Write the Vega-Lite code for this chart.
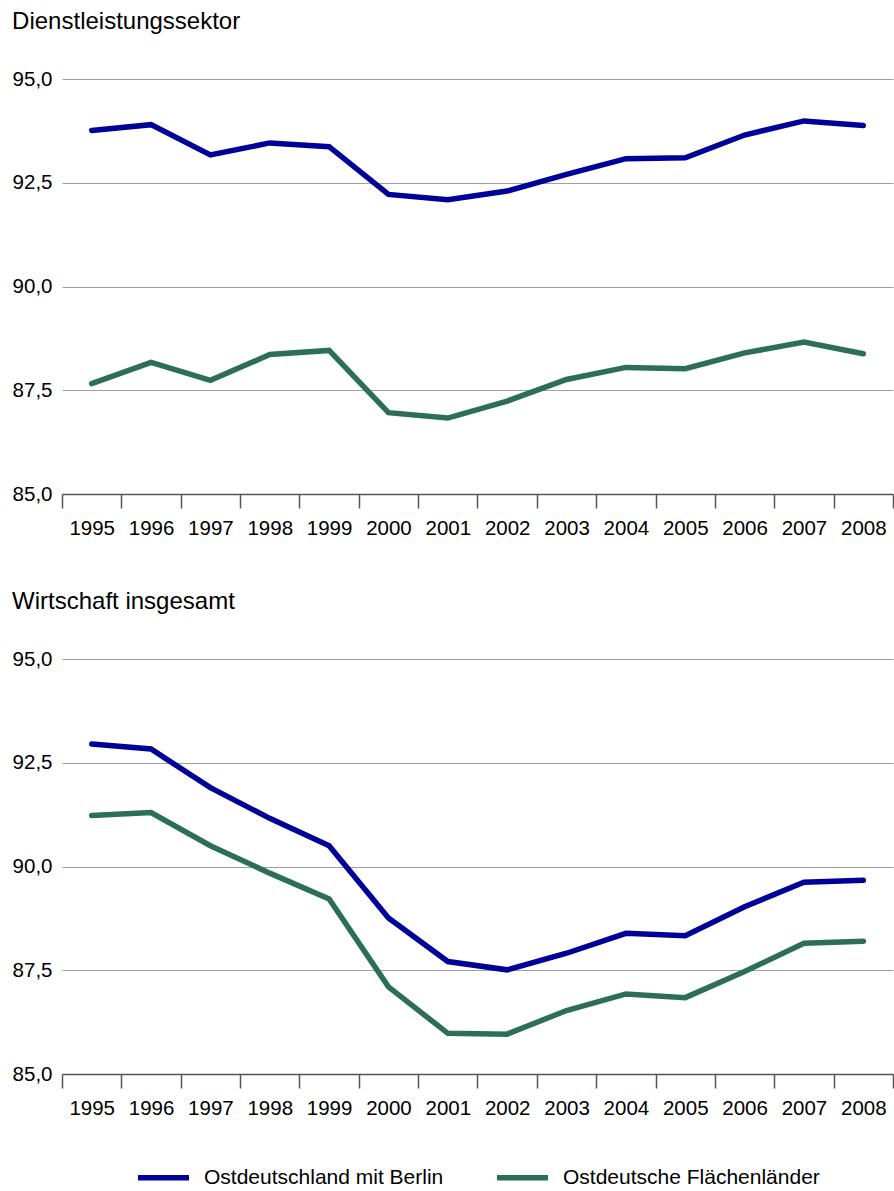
{
  "$schema": "https://vega.github.io/schema/vega-lite/v6.json",
  "background": "white",
  "padding": {"left": 12, "top": 10, "right": 0, "bottom": 5},
  "spacing": 51,
  "datasets": {
    "dienst": [
      {"Jahr": "1995", "Region": "Ostdeutschland mit Berlin", "Wert": 93.76},
      {"Jahr": "1996", "Region": "Ostdeutschland mit Berlin", "Wert": 93.90},
      {"Jahr": "1997", "Region": "Ostdeutschland mit Berlin", "Wert": 93.17},
      {"Jahr": "1998", "Region": "Ostdeutschland mit Berlin", "Wert": 93.46},
      {"Jahr": "1999", "Region": "Ostdeutschland mit Berlin", "Wert": 93.37},
      {"Jahr": "2000", "Region": "Ostdeutschland mit Berlin", "Wert": 92.22},
      {"Jahr": "2001", "Region": "Ostdeutschland mit Berlin", "Wert": 92.09},
      {"Jahr": "2002", "Region": "Ostdeutschland mit Berlin", "Wert": 92.30},
      {"Jahr": "2003", "Region": "Ostdeutschland mit Berlin", "Wert": 92.70},
      {"Jahr": "2004", "Region": "Ostdeutschland mit Berlin", "Wert": 93.08},
      {"Jahr": "2005", "Region": "Ostdeutschland mit Berlin", "Wert": 93.10},
      {"Jahr": "2006", "Region": "Ostdeutschland mit Berlin", "Wert": 93.65},
      {"Jahr": "2007", "Region": "Ostdeutschland mit Berlin", "Wert": 93.99},
      {"Jahr": "2008", "Region": "Ostdeutschland mit Berlin", "Wert": 93.88},
      {"Jahr": "1995", "Region": "Ostdeutsche Flächenländer", "Wert": 87.66},
      {"Jahr": "1996", "Region": "Ostdeutsche Flächenländer", "Wert": 88.17},
      {"Jahr": "1997", "Region": "Ostdeutsche Flächenländer", "Wert": 87.74},
      {"Jahr": "1998", "Region": "Ostdeutsche Flächenländer", "Wert": 88.36},
      {"Jahr": "1999", "Region": "Ostdeutsche Flächenländer", "Wert": 88.46},
      {"Jahr": "2000", "Region": "Ostdeutsche Flächenländer", "Wert": 86.96},
      {"Jahr": "2001", "Region": "Ostdeutsche Flächenländer", "Wert": 86.83},
      {"Jahr": "2002", "Region": "Ostdeutsche Flächenländer", "Wert": 87.24},
      {"Jahr": "2003", "Region": "Ostdeutsche Flächenländer", "Wert": 87.76},
      {"Jahr": "2004", "Region": "Ostdeutsche Flächenländer", "Wert": 88.05},
      {"Jahr": "2005", "Region": "Ostdeutsche Flächenländer", "Wert": 88.02},
      {"Jahr": "2006", "Region": "Ostdeutsche Flächenländer", "Wert": 88.40},
      {"Jahr": "2007", "Region": "Ostdeutsche Flächenländer", "Wert": 88.66},
      {"Jahr": "2008", "Region": "Ostdeutsche Flächenländer", "Wert": 88.38}
    ],
    "gesamt": [
      {"Jahr": "1995", "Region": "Ostdeutschland mit Berlin", "Wert": 92.95},
      {"Jahr": "1996", "Region": "Ostdeutschland mit Berlin", "Wert": 92.83},
      {"Jahr": "1997", "Region": "Ostdeutschland mit Berlin", "Wert": 91.90},
      {"Jahr": "1998", "Region": "Ostdeutschland mit Berlin", "Wert": 91.16},
      {"Jahr": "1999", "Region": "Ostdeutschland mit Berlin", "Wert": 90.50},
      {"Jahr": "2000", "Region": "Ostdeutschland mit Berlin", "Wert": 88.76},
      {"Jahr": "2001", "Region": "Ostdeutschland mit Berlin", "Wert": 87.71},
      {"Jahr": "2002", "Region": "Ostdeutschland mit Berlin", "Wert": 87.51},
      {"Jahr": "2003", "Region": "Ostdeutschland mit Berlin", "Wert": 87.91},
      {"Jahr": "2004", "Region": "Ostdeutschland mit Berlin", "Wert": 88.39},
      {"Jahr": "2005", "Region": "Ostdeutschland mit Berlin", "Wert": 88.33},
      {"Jahr": "2006", "Region": "Ostdeutschland mit Berlin", "Wert": 89.03},
      {"Jahr": "2007", "Region": "Ostdeutschland mit Berlin", "Wert": 89.62},
      {"Jahr": "2008", "Region": "Ostdeutschland mit Berlin", "Wert": 89.67},
      {"Jahr": "1995", "Region": "Ostdeutsche Flächenländer", "Wert": 91.23},
      {"Jahr": "1996", "Region": "Ostdeutsche Flächenländer", "Wert": 91.30},
      {"Jahr": "1997", "Region": "Ostdeutsche Flächenländer", "Wert": 90.50},
      {"Jahr": "1998", "Region": "Ostdeutsche Flächenländer", "Wert": 89.84},
      {"Jahr": "1999", "Region": "Ostdeutsche Flächenländer", "Wert": 89.22},
      {"Jahr": "2000", "Region": "Ostdeutsche Flächenländer", "Wert": 87.10},
      {"Jahr": "2001", "Region": "Ostdeutsche Flächenländer", "Wert": 85.98},
      {"Jahr": "2002", "Region": "Ostdeutsche Flächenländer", "Wert": 85.96},
      {"Jahr": "2003", "Region": "Ostdeutsche Flächenländer", "Wert": 86.53},
      {"Jahr": "2004", "Region": "Ostdeutsche Flächenländer", "Wert": 86.93},
      {"Jahr": "2005", "Region": "Ostdeutsche Flächenländer", "Wert": 86.84},
      {"Jahr": "2006", "Region": "Ostdeutsche Flächenländer", "Wert": 87.47},
      {"Jahr": "2007", "Region": "Ostdeutsche Flächenländer", "Wert": 88.15},
      {"Jahr": "2008", "Region": "Ostdeutsche Flächenländer", "Wert": 88.20}
    ]
  },
  "vconcat": [
    {
      "title": {"text": "Dienstleistungssektor"},
      "width": 831,
      "height": 415,
      "data": {"name": "dienst"},
      "mark": {"type": "line", "strokeWidth": 5.5, "strokeCap": "round"},
      "encoding": {
        "x": {"field": "Jahr", "type": "ordinal", "bandPosition": 0.5,
              "scale": {"type": "band", "paddingInner": 0, "paddingOuter": 0}},
        "y": {"field": "Wert", "type": "quantitative",
              "scale": {"domain": [85, 95], "nice": false, "zero": false},
              "axis": {"values": [85, 87.5, 90, 92.5, 95], "labelExpr": "replace(format(datum.value, '.1f'), '.', ',')"}},
        "color": {"field": "Region", "type": "nominal",
                  "scale": {"domain": ["Ostdeutschland mit Berlin", "Ostdeutsche Flächenländer"], "range": ["#000099", "#2d6e5a"]},
                  "legend": null}
      }
    },
    {
      "title": {"text": "Wirtschaft insgesamt"},
      "width": 831,
      "height": 415,
      "data": {"name": "gesamt"},
      "mark": {"type": "line", "strokeWidth": 5.5, "strokeCap": "round"},
      "encoding": {
        "x": {"field": "Jahr", "type": "ordinal", "bandPosition": 0.5,
              "scale": {"type": "band", "paddingInner": 0, "paddingOuter": 0}},
        "y": {"field": "Wert", "type": "quantitative",
              "scale": {"domain": [85, 95], "nice": false, "zero": false},
              "axis": {"values": [85, 87.5, 90, 92.5, 95], "labelExpr": "replace(format(datum.value, '.1f'), '.', ',')"}},
        "color": {"field": "Region", "type": "nominal",
                  "scale": {"domain": ["Ostdeutschland mit Berlin", "Ostdeutsche Flächenländer"], "range": ["#000099", "#2d6e5a"]},
                  "legend": {"orient": "bottom", "direction": "horizontal", "title": null, "offset": 30}}
      }
    }
  ],
  "resolve": {"scale": {"color": "independent"}, "legend": {"color": "independent"}},
  "config": {
    "font": "Liberation Sans",
    "view": {"stroke": null},
    "title": {"anchor": "start", "frame": "bounds", "fontSize": 24, "fontWeight": "normal", "color": "#000000", "offset": 35},
    "axisX": {"title": null, "labelAngle": 0, "tickBand": "extent", "tickSize": 14, "tickColor": "#555555", "tickWidth": 1.5, "domainColor": "#555555", "domainWidth": 1.5, "labelPadding": 10, "labelFontSize": 20.5, "labelColor": "#000000", "grid": false},
    "axisY": {"title": null, "domain": false, "ticks": false, "grid": true, "gridColor": "#a0a0a0", "gridWidth": 1.2, "labelPadding": 10, "labelFontSize": 20.5, "labelColor": "#000000"},
    "legend": {"symbolType": "stroke", "symbolStrokeWidth": 5.5, "symbolSize": 2600, "labelFontSize": 21, "labelLimit": 500, "labelColor": "#000000", "columnPadding": 42, "labelOffset": 12, "layout": {"bottom": {"anchor": "middle"}}}
  }
}
